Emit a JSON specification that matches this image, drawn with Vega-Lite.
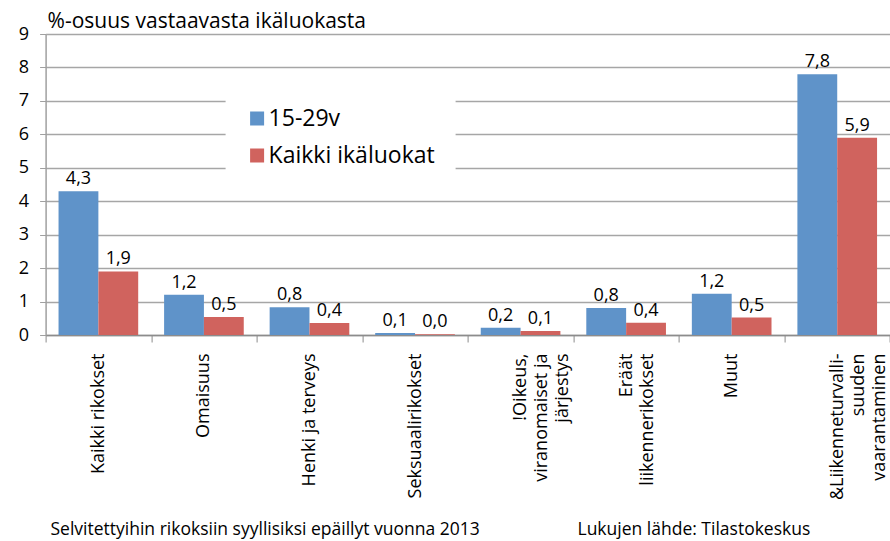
{
  "$schema": "https://vega.github.io/schema/vega-lite/v6.json",
  "width": 844.4,
  "height": 301,
  "autosize": {"type": "none"},
  "padding": {"left": 45.6, "top": 34, "right": 0, "bottom": 206},
  "background": "white",
  "title": {
    "text": "%-osuus vastaavasta ikäluokasta",
    "anchor": "start",
    "frame": "group",
    "font": "Open Sans",
    "fontSize": 21,
    "fontWeight": "normal",
    "color": "#000",
    "offset": 0,
    "dx": 2,
    "dy": 7
  },
  "data": {
    "values": [
      {"cat": "Kaikki rikokset", "series": "15-29v", "value": 4.3},
      {"cat": "Kaikki rikokset", "series": "Kaikki ikäluokat", "value": 1.9},
      {"cat": "Omaisuus", "series": "15-29v", "value": 1.2},
      {"cat": "Omaisuus", "series": "Kaikki ikäluokat", "value": 0.54},
      {"cat": "Henki ja terveys", "series": "15-29v", "value": 0.83},
      {"cat": "Henki ja terveys", "series": "Kaikki ikäluokat", "value": 0.36},
      {"cat": "Seksuaalirikokset", "series": "15-29v", "value": 0.06},
      {"cat": "Seksuaalirikokset", "series": "Kaikki ikäluokat", "value": 0.02},
      {"cat": "!Oikeus,|viranomaiset ja|järjestys", "series": "15-29v", "value": 0.22},
      {"cat": "!Oikeus,|viranomaiset ja|järjestys", "series": "Kaikki ikäluokat", "value": 0.12},
      {"cat": "Eräät|liikennerikokset", "series": "15-29v", "value": 0.81},
      {"cat": "Eräät|liikennerikokset", "series": "Kaikki ikäluokat", "value": 0.37},
      {"cat": "Muut", "series": "15-29v", "value": 1.23},
      {"cat": "Muut", "series": "Kaikki ikäluokat", "value": 0.52},
      {"cat": "&Liikenneturvalli-|suuden|vaarantaminen", "series": "15-29v", "value": 7.8},
      {"cat": "&Liikenneturvalli-|suuden|vaarantaminen", "series": "Kaikki ikäluokat", "value": 5.9}
    ]
  },
  "encoding": {
    "x": {
      "field": "cat",
      "type": "nominal",
      "sort": null,
      "scale": {"paddingInner": 0, "paddingOuter": 0},
      "axis": {
        "title": "Selvitettyihin rikoksiin syyllisiksi epäillyt vuonna 2013",
        "titleX": 4.4,
        "titleY": 199,
        "titleAlign": "left",
        "titleAnchor": null,
        "titleBaseline": "alphabetic",
        "titleFont": "Open Sans",
        "titleFontSize": 17.5,
        "titleFontWeight": "normal",
        "titleColor": "#000",
        "labelAngle": -90,
        "labelExpr": "split(datum.label, '|')",
        "labelLineHeight": 21,
        "labelFont": "Open Sans",
        "labelFontSize": 18,
        "labelColor": "#000",
        "labelLimit": 0,
        "labelAlign": "right",
        "labelPadding": 11,
        "tickBand": "extent",
        "tickSize": 7,
        "tickColor": "#8c8c8c",
        "domainColor": "#8c8c8c",
        "domainWidth": 1.5,
        "grid": false
      }
    },
    "xOffset": {
      "field": "series",
      "type": "nominal",
      "sort": null,
      "scale": {"paddingInner": 0, "paddingOuter": 0.325}
    },
    "y": {
      "field": "value",
      "type": "quantitative",
      "scale": {"domain": [0, 9], "nice": false},
      "axis": {
        "values": [0, 1, 2, 3, 4, 5, 6, 7, 8, 9],
        "title": "Lukujen lähde: Tilastokeskus",
        "titleAngle": 0,
        "titleX": 531.4,
        "titleY": 500,
        "titleAlign": "left",
        "titleAnchor": null,
        "titleBaseline": "alphabetic",
        "titleFont": "Open Sans",
        "titleFontSize": 17.5,
        "titleFontWeight": "normal",
        "titleColor": "#000",
        "labelFont": "Open Sans",
        "labelFontSize": 18,
        "labelColor": "#000",
        "labelPadding": 11,
        "tickSize": 6,
        "tickColor": "#a0a0a0",
        "domainColor": "#a0a0a0",
        "domainWidth": 1.5,
        "gridColor": "#a6a6a6",
        "gridWidth": 1.3
      }
    }
  },
  "layer": [
    {
      "mark": {"type": "bar"},
      "encoding": {
        "color": {
          "field": "series",
          "type": "nominal",
          "sort": null,
          "scale": {"domain": ["15-29v", "Kaikki ikäluokat"], "range": ["#5f93c9", "#d0635e"]},
          "legend": {
            "title": null,
            "orient": "none",
            "legendX": 180,
            "legendY": 53,
            "fillColor": "white",
            "padding": 20,
            "symbolType": "square",
            "symbolSize": 196,
            "symbolStrokeWidth": 0,
            "labelFont": "Open Sans",
            "labelFontSize": 23,
            "labelLimit": 0,
            "labelColor": "#000",
            "labelOffset": 0,
            "rowPadding": 13
          }
        }
      }
    },
    {
      "mark": {"type": "text", "baseline": "alphabetic", "dy": -7, "font": "Open Sans", "fontSize": 18, "color": "#000"},
      "encoding": {
        "text": {"field": "value", "type": "quantitative", "format": ".1f"}
      }
    }
  ],
  "config": {
    "view": {"stroke": null},
    "locale": {"number": {"decimal": ",", "thousands": "\u00a0", "grouping": [3], "currency": ["", " €"]}}
  }
}
